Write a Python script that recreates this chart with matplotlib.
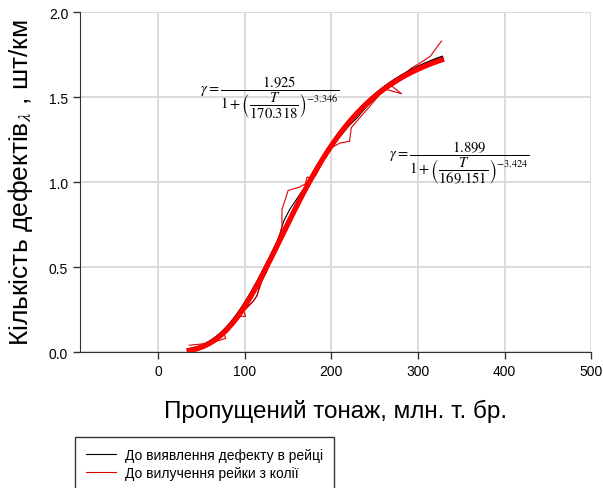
import numpy as np
import matplotlib.pyplot as plt

plt.rcParams['font.family'] = ['Liberation Sans', 'DejaVu Sans']
plt.rcParams['mathtext.fontset'] = 'stix'

# fitted model parameters: gamma = a / (1 + (T/b)^c)
fit_detect = (1.925, 170.318, -3.346)   # до виявлення дефекту
fit_remove = (1.899, 169.151, -3.424)   # до вилучення рейки

t_start, t_end = 36, 327

t_detect = [36, 50, 60, 70, 80, 90, 100, 110, 114, 118, 125, 130, 141, 145,
            152, 160, 168, 175, 182, 190, 198, 205, 212, 220, 230, 240, 248,
            255, 265, 272, 280, 290, 300, 310, 318, 327]
y_detect = [0.02, 0.035, 0.05, 0.08, 0.12, 0.18, 0.25, 0.30, 0.33, 0.40, 0.47,
            0.54, 0.70, 0.77, 0.84, 0.90, 0.96, 1.01, 1.06, 1.12, 1.18, 1.24,
            1.28, 1.33, 1.38, 1.44, 1.48, 1.52, 1.56, 1.58, 1.61, 1.64, 1.67,
            1.69, 1.71, 1.73]

t_remove = [36, 55, 65, 78, 76, 85, 95, 101, 99, 110, 114, 120, 125, 130, 135,
            141, 143, 143, 147, 150, 156, 163, 170, 172, 178, 182, 190, 199,
            210, 221, 223, 233, 245, 255, 260, 281, 266, 279, 283, 292, 302,
            314, 327]
y_remove = [0.04, 0.05, 0.06, 0.08, 0.11, 0.15, 0.21, 0.21, 0.24, 0.30, 0.33,
            0.42, 0.48, 0.55, 0.62, 0.70, 0.74, 0.84, 0.90, 0.95, 0.96, 0.97,
            0.99, 1.03, 1.02, 1.04, 1.12, 1.20, 1.23, 1.24, 1.32, 1.38, 1.45,
            1.51, 1.55, 1.52, 1.58, 1.60, 1.63, 1.67, 1.70, 1.74, 1.83]

labels = ['До виявлення дефекту в рейці', 'До вилучення рейки з колії']


def model(t, a, b, c):
    return a / (1 + (t / b) ** c)


fig = plt.figure(figsize=(6.03, 4.89), dpi=100)
ax = fig.add_axes([0.1327, 0.278, 0.848, 0.695])

t = np.linspace(t_start, t_end, 300)

l1, = ax.plot(t_detect, y_detect, color='black', lw=0.8, zorder=3)
l2, = ax.plot(t_remove, y_remove, color='#e00000', lw=0.8, zorder=3)
ax.plot(t, model(t, *fit_detect), color='black', lw=3.0, zorder=4)
ax.plot(t, model(t, *fit_remove), color='#ff0000', lw=3.8, zorder=5)

ax.set_xlim(-90, 500)
ax.set_ylim(0, 2.0)
ax.set_xticks([0, 100, 200, 300, 400, 500])
ax.set_yticks([0.0, 0.5, 1.0, 1.5, 2.0])
ax.set_yticklabels(['0.0', '0.5', '1.0', '1.5', '2.0'])
ax.tick_params(labelsize=10, direction='out', length=5, width=1, colors='#333333')
ax.tick_params(labelcolor='black')
ax.grid(True, color='#d8d8d8', lw=1.3)
ax.set_axisbelow(True)
for s in ['top', 'right']:
    ax.spines[s].set_visible(False)
for s in ['left', 'bottom']:
    ax.spines[s].set_color('#333333')

ax.set_xlabel('Пропущений тонаж, млн. т. бр.', fontsize=17.5, labelpad=15)
ax.set_ylabel('Кількість дефектів$_{\\lambda}$ , шт/км', fontsize=19, labelpad=10)

eq1 = r'$\gamma = \dfrac{%.3f}{1+\left(\dfrac{T}{%.3f}\right)^{%.3f}}$' % (
    fit_detect[0], fit_detect[1], fit_detect[2])
eq2 = r'$\gamma = \dfrac{%.3f}{1+\left(\dfrac{T}{%.3f}\right)^{%.3f}}$' % (
    fit_remove[0], fit_remove[1], fit_remove[2])
ax.text(49, 1.50, eq1, fontsize=10.5, ha='left', va='center', zorder=6)
ax.text(266, 1.12, eq2, fontsize=10.5, ha='left', va='center', zorder=6)

fig.legend([l1, l2], labels, loc='upper left', bbox_to_anchor=(0.124, 0.1043),
           fontsize=10, frameon=True, fancybox=False, edgecolor='#333333',
           handlelength=2.2, handletextpad=0.6, borderpad=0.8, labelspacing=0.25,
           borderaxespad=0, framealpha=1)

fig.savefig('out.png', dpi=100)
